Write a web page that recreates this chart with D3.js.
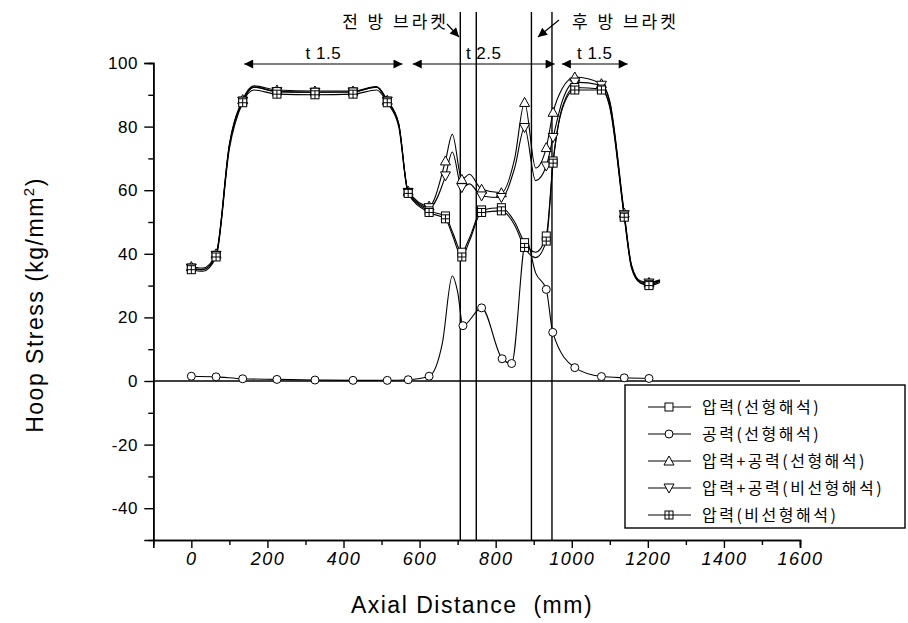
<!DOCTYPE html>
<html>
<head>
<meta charset="utf-8">
<script src="https://cdn.jsdelivr.net/npm/d3@7"></script>
<style>
  body { margin: 0; background: #fff; }
  svg text { fill: #000; white-space: pre; }
</style>
</head>
<body>
<div id="chart"></div>
<script>
// shared x positions (mm) for the pressure-based curves
const xLine = [0, 30, 65, 100, 135, 165, 225, 325, 425, 487, 515, 545, 570, 625, 668, 686, 711, 731, 763, 815, 850, 876, 905, 933, 951, 975, 1008, 1078, 1100, 1138, 1157, 1180, 1203, 1232];
// indices of xLine that carry a symbol
const markIdx = [0, 2, 4, 6, 7, 8, 10, 12, 13, 14, 16, 18, 19, 21, 23, 24, 26, 27, 29, 32];

const pressLin = [35.5, 35, 39.5, 74, 88, 92.4, 91, 90.8, 90.9, 92.4, 88, 80.8, 59.3, 53.5, 51.9, 47, 40.5, 45, 53.8, 54.5, 50, 43.5, 40.5, 45.6, 69.2, 86, 92.3, 91.8, 86.5, 51.9, 36, 31, 30.4, 31.4];
const pressNon = [35, 34.5, 39, 73, 87.5, 91.5, 90.2, 90, 90.2, 91.5, 87.5, 80, 59, 53, 51, 46, 39, 44, 53, 53.5, 49, 42, 38.8, 44, 68.5, 85.5, 91.5, 91.5, 86, 51.5, 35.5, 30.8, 30, 31];
const sumLin = [36, 35.5, 40, 74.5, 88.5, 92.8, 91.5, 91.2, 91.2, 92.6, 88.3, 81, 59.7, 55, 69.2, 77.6, 63.4, 65, 60.3, 59.2, 70, 87.6, 67, 73.4, 84.5, 92, 95.6, 93.5, 88, 52.8, 36.5, 31.5, 31, 31.8];
const sumNon = [35.5, 35, 39.5, 74, 88, 92.4, 91, 90.8, 90.9, 92.4, 88, 80.8, 59.3, 54.5, 64.5, 72, 60.8, 62, 58.2, 57.7, 67, 79.7, 63, 67.6, 76.6, 88, 94, 93, 87.5, 52.3, 36.2, 31.2, 30.8, 31.6];

// aerodynamic load only
const xAero = [0, 65, 135, 225, 325, 425, 515, 570, 625, 660, 686, 700, 714, 763, 817, 842, 880, 905, 933, 950, 1008, 1078, 1138, 1203];
const aero = [1.5, 1.3, 0.7, 0.5, 0.3, 0.2, 0.2, 0.4, 1.5, 12, 33, 28, 17.4, 23, 7, 5.5, 44.5, 34, 28.8, 15.3, 4.2, 1.4, 1, 0.8];
const aeroMark = [0, 1, 2, 3, 4, 5, 6, 7, 8, 12, 13, 14, 15, 18, 19, 20, 21, 22, 23];

const seriesNames = ["압력(선형해석)", "공력(선형해석)", "압력+공력(선형해석)", "압력+공력(비선형해석)", "압력(비선형해석)"];
const bracketX = [707, 749, 894, 948];
const xTicks = [0, 200, 400, 600, 800, 1000, 1200, 1400, 1600];
const yTicks = [-40, -20, 0, 20, 40, 60, 80, 100];

const W = 908, H = 623;
const font = "'Liberation Sans', Arial, sans-serif";
const kfont = "'Noto Sans CJK KR', sans-serif";
const svg = d3.select("#chart").append("svg")
  .attr("width", W).attr("height", H)
  .style("font-family", font);

const x = d3.scaleLinear().domain([-100, 1600]).range([153.3, 800]);
const y = d3.scaleLinear().domain([-50, 100]).range([540, 63]);

const defs = svg.append("defs");
defs.append("marker").attr("id", "ah")
  .attr("viewBox", "0 0 10 10").attr("refX", 10).attr("refY", 5)
  .attr("markerWidth", 14).attr("markerHeight", 9).attr("markerUnits", "userSpaceOnUse")
  .attr("orient", "auto-start-reverse")
  .append("path").attr("d", "M0,0 L10,5 L0,10 Z").attr("fill", "#000");

// axes
const xAxis = d3.axisBottom(x).tickValues(xTicks).tickSize(8).tickFormat(d => String(d));
const gx = svg.append("g").attr("transform", `translate(0,${y(-50)})`).call(xAxis)
  .attr("font-family", font);
gx.selectAll(".tick text").attr("font-size", 18).attr("font-style", "italic")
  .attr("letter-spacing", 1.5).attr("dy", "0.8em");
svg.append("g").attr("transform", `translate(0,${y(-50)})`)
  .call(d3.axisBottom(x).tickValues(d3.range(100, 1600, 200)).tickSize(5).tickFormat(""));

const yAxis = d3.axisLeft(y).tickValues(yTicks).tickSize(9).tickFormat(d => String(d));
const gy = svg.append("g").attr("transform", `translate(${x(-100)},0)`).call(yAxis)
  .attr("font-family", font);
gy.selectAll(".tick text").attr("font-size", 17).attr("letter-spacing", 0.5).attr("dx", "-0.2em");
svg.append("g").attr("transform", `translate(${x(-100)},0)`)
  .call(d3.axisLeft(y).tickValues(d3.range(-30, 100, 20)).tickSize(5).tickFormat(""));

svg.selectAll(".domain").attr("stroke-width", 1.6);
svg.selectAll(".tick line").attr("stroke-width", 1.4);

// zero line
svg.append("line")
  .attr("x1", x(-100)).attr("x2", x(1600))
  .attr("y1", y(0)).attr("y2", y(0))
  .attr("stroke", "#000").attr("stroke-width", 1.4);

// bracket positions
svg.selectAll(".bracket").data(bracketX).join("line")
  .attr("x1", d => x(d)).attr("x2", d => x(d))
  .attr("y1", y(-50)).attr("y2", 12)
  .attr("stroke", "#000").attr("stroke-width", 1.4);

// thickness dimension arrows
const dims = [
  { a: 139, b: 555, label: "t 1.5" },
  { a: 582, b: 955, label: "t 2.5" },
  { a: 974, b: 1147, label: "t 1.5" }
];
dims.forEach(d => {
  svg.append("line")
    .attr("x1", x(d.a)).attr("x2", x(d.b)).attr("y1", 64).attr("y2", 64)
    .attr("stroke", "#000").attr("stroke-width", 1.2)
    .attr("marker-start", "url(#ah)").attr("marker-end", "url(#ah)");
  svg.append("text")
    .attr("x", x((d.a + d.b) / 2)).attr("y", 59)
    .attr("text-anchor", "middle").attr("font-size", 17).attr("letter-spacing", 0.5)
    .text(d.label);
});

// bracket callouts
svg.append("text").attr("x", 449).attr("y", 28).attr("text-anchor", "end")
  .attr("font-family", kfont).attr("font-size", 17).attr("letter-spacing", 3)
  .text("전 방 브라켓");
svg.append("line").attr("x1", 447).attr("y1", 24).attr("x2", 459).attr("y2", 37)
  .attr("stroke", "#000").attr("stroke-width", 1.2).attr("marker-end", "url(#ah)");
svg.append("text").attr("x", 572).attr("y", 28)
  .attr("font-family", kfont).attr("font-size", 17).attr("letter-spacing", 3)
  .text("후 방 브라켓");
svg.append("line").attr("x1", 559).attr("y1", 20).attr("x2", 538).attr("y2", 37)
  .attr("stroke", "#000").attr("stroke-width", 1.2).attr("marker-end", "url(#ah)");

// symbols
function symbol(g, kind, cx, cy) {
  const s = 4;
  if (kind === "square" || kind === "squarex") {
    g.append("rect").attr("x", cx - s).attr("y", cy - s).attr("width", 2 * s).attr("height", 2 * s)
      .attr("fill", "#fff").attr("stroke", "#000").attr("stroke-width", 1);
    if (kind === "squarex") {
      g.append("path").attr("d", `M${cx - s},${cy}H${cx + s}M${cx},${cy - s}V${cy + s}`)
        .attr("stroke", "#000").attr("stroke-width", 1);
    }
  } else if (kind === "circle") {
    g.append("circle").attr("cx", cx).attr("cy", cy).attr("r", s)
      .attr("fill", "#fff").attr("stroke", "#000").attr("stroke-width", 1);
  } else if (kind === "up") {
    g.append("path").attr("d", `M${cx},${cy - s - 1}L${cx + s + 1},${cy + s}L${cx - s - 1},${cy + s}Z`)
      .attr("fill", "#fff").attr("stroke", "#000").attr("stroke-width", 1);
  } else if (kind === "down") {
    g.append("path").attr("d", `M${cx},${cy + s + 1}L${cx + s + 1},${cy - s}L${cx - s - 1},${cy - s}Z`)
      .attr("fill", "#fff").attr("stroke", "#000").attr("stroke-width", 1);
  }
}

const line = d3.line().x(d => x(d[0])).y(d => y(d[1])).curve(d3.curveMonotoneX);

const series = [
  { xs: xAero, ys: aero, marks: aeroMark, kind: "circle" },
  { xs: xLine, ys: sumLin, marks: markIdx, kind: "up" },
  { xs: xLine, ys: sumNon, marks: markIdx, kind: "down" },
  { xs: xLine, ys: pressLin, marks: markIdx, kind: "square" },
  { xs: xLine, ys: pressNon, marks: markIdx, kind: "squarex" }
];

series.forEach(s => {
  const pts = s.xs.map((v, i) => [v, s.ys[i]]);
  svg.append("path").datum(pts).attr("d", line)
    .attr("fill", "none").attr("stroke", "#000").attr("stroke-width", 1.1);
});
series.forEach(s => {
  const g = svg.append("g");
  s.marks.forEach(i => symbol(g, s.kind, x(s.xs[i]), y(s.ys[i])));
});

// legend
const leg = svg.append("g");
leg.append("rect").attr("x", 625).attr("y", 385).attr("width", 280).attr("height", 143)
  .attr("fill", "#fff").attr("stroke", "#000").attr("stroke-width", 1.4);
const legKinds = ["square", "circle", "up", "down", "squarex"];
seriesNames.forEach((name, i) => {
  const ly = 407 + i * 27;
  leg.append("line").attr("x1", 648).attr("x2", 691).attr("y1", ly).attr("y2", ly)
    .attr("stroke", "#000").attr("stroke-width", 1.1);
  symbol(leg, legKinds[i], 669, ly);
  leg.append("text").attr("x", 702).attr("y", ly).attr("dy", "0.36em")
    .attr("font-family", kfont).attr("font-size", 16).attr("letter-spacing", 2.5)
    .text(name);
});

// axis titles
svg.append("text").attr("x", 472).attr("y", 613).attr("text-anchor", "middle")
  .attr("font-size", 23).attr("letter-spacing", 1.5)
  .text("Axial Distance  (mm)");
const yt = svg.append("text").attr("transform", "translate(43,305) rotate(-90)")
  .attr("text-anchor", "middle").attr("font-size", 23).attr("letter-spacing", 1.5);
yt.append("tspan").text("Hoop Stress (kg/mm");
yt.append("tspan").attr("dy", -9).attr("font-size", 15).text("2");
yt.append("tspan").attr("dy", 9).text(")");
</script>
</body>
</html>
